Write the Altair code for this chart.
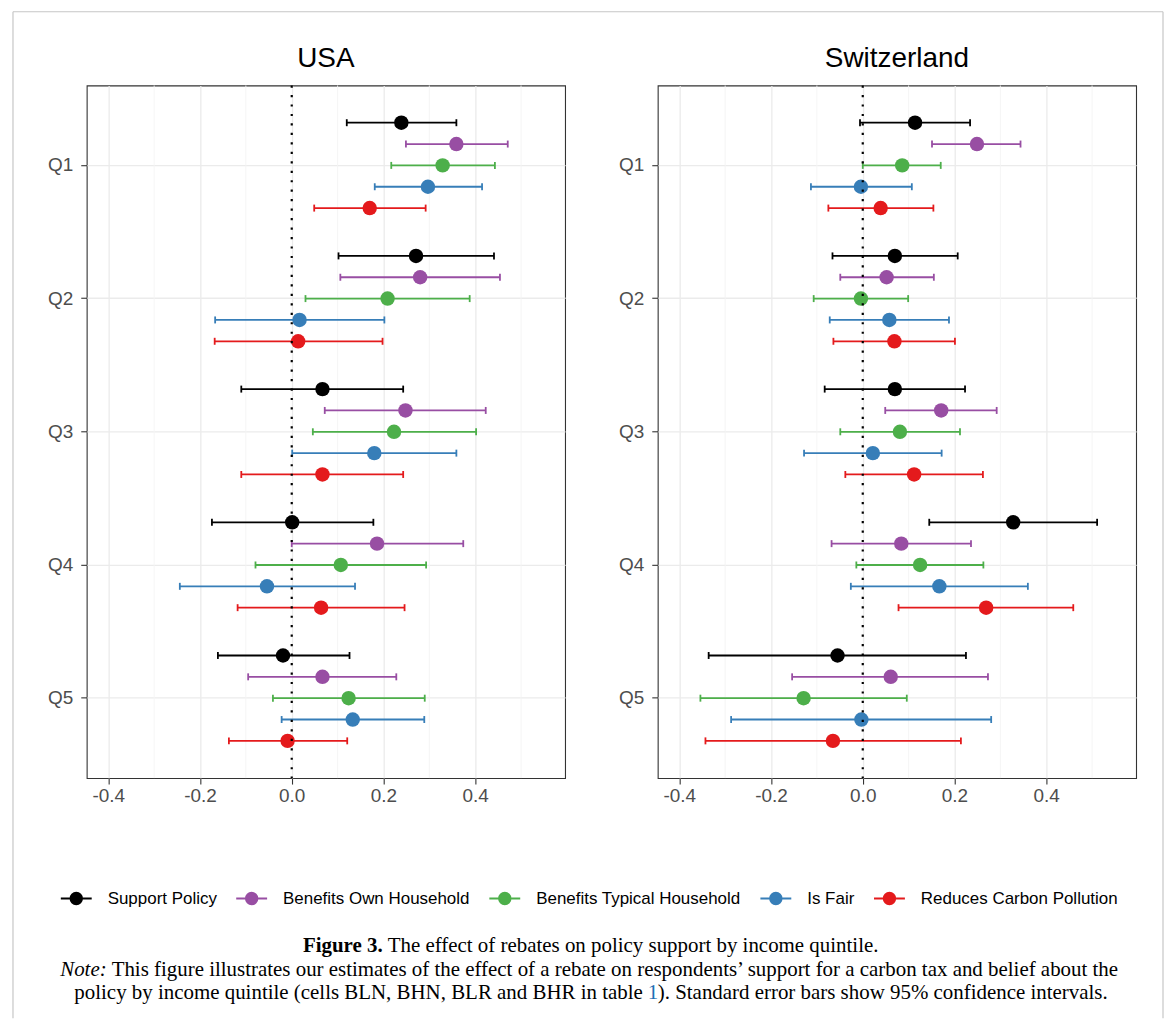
import altair as alt
import pandas as pd

quintiles = ["Q1", "Q2", "Q3", "Q4", "Q5"]
series = ["Support Policy", "Benefits Own Household", "Benefits Typical Household",
          "Is Fair", "Reduces Carbon Pollution"]
colors = ["#000000", "#984EA3", "#4DAF4A", "#377EB8", "#E41A1C"]

# USA estimates (Q1..Q5)
usa_support = [0.239, 0.271, 0.067, 0.001, -0.019]
usa_support_lo = [0.120, 0.102, -0.110, -0.174, -0.161]
usa_support_hi = [0.359, 0.441, 0.243, 0.178, 0.126]
usa_own = [0.359, 0.280, 0.248, 0.186, 0.067]
usa_own_lo = [0.249, 0.106, 0.072, 0.000, -0.095]
usa_own_hi = [0.471, 0.454, 0.423, 0.374, 0.228]
usa_typical = [0.329, 0.209, 0.223, 0.107, 0.124]
usa_typical_lo = [0.217, 0.030, 0.046, -0.079, -0.041]
usa_typical_hi = [0.443, 0.388, 0.402, 0.293, 0.290]
usa_fair = [0.297, 0.017, 0.180, -0.054, 0.133]
usa_fair_lo = [0.181, -0.167, 0.001, -0.244, -0.022]
usa_fair_hi = [0.415, 0.202, 0.359, 0.138, 0.289]
usa_carbon = [0.170, 0.014, 0.067, 0.064, -0.009]
usa_carbon_lo = [0.049, -0.168, -0.110, -0.118, -0.137]
usa_carbon_hi = [0.292, 0.198, 0.243, 0.246, 0.121]

# Switzerland estimates (Q1..Q5)
che_support = [0.114, 0.070, 0.070, 0.328, -0.055]
che_support_lo = [-0.006, -0.066, -0.083, 0.145, -0.336]
che_support_hi = [0.234, 0.207, 0.223, 0.511, 0.225]
che_own = [0.249, 0.052, 0.171, 0.084, 0.061]
che_own_lo = [0.151, -0.049, 0.049, -0.068, -0.154]
che_own_hi = [0.344, 0.155, 0.292, 0.236, 0.273]
che_typical = [0.086, -0.004, 0.081, 0.125, -0.129]
che_typical_lo = [0.000, -0.107, -0.049, -0.014, -0.354]
che_typical_hi = [0.170, 0.099, 0.212, 0.263, 0.096]
che_fair = [-0.004, 0.058, 0.022, 0.167, -0.003]
che_fair_lo = [-0.113, -0.072, -0.128, -0.026, -0.287]
che_fair_hi = [0.107, 0.188, 0.172, 0.360, 0.280]
che_carbon = [0.039, 0.069, 0.112, 0.269, -0.065]
che_carbon_lo = [-0.075, -0.064, -0.038, 0.078, -0.343]
che_carbon_hi = [0.154, 0.201, 0.262, 0.459, 0.214]

x_ticks = [-0.4, -0.2, 0.0, 0.2, 0.4]
x_minor = [-0.3, -0.1, 0.1, 0.3, 0.5]

caption_fig = "Figure 3."
caption_1 = "The effect of rebates on policy support by income quintile."
caption_note = "Note:"
caption_2 = ("This figure illustrates our estimates of the effect of a rebate on respondents\u2019 "
             "support for a carbon tax and belief about the")
caption_3a = "policy by income quintile (cells BLN, BHN, BLR and BHR in table"
caption_3b = "1"
caption_3c = "). Standard error bars show 95% confidence intervals."


def build_rows(country, groups):
    rows = []
    for s, (est, lo, hi) in zip(series, groups):
        for q, e, l, h in zip(quintiles, est, lo, hi):
            rows.append({"country": country, "series": s, "quintile": q,
                         "est": e, "lo": l, "hi": h})
    return rows


usa_df = pd.DataFrame(build_rows("USA", [
    (usa_support, usa_support_lo, usa_support_hi),
    (usa_own, usa_own_lo, usa_own_hi),
    (usa_typical, usa_typical_lo, usa_typical_hi),
    (usa_fair, usa_fair_lo, usa_fair_hi),
    (usa_carbon, usa_carbon_lo, usa_carbon_hi),
]))
che_df = pd.DataFrame(build_rows("Switzerland", [
    (che_support, che_support_lo, che_support_hi),
    (che_own, che_own_lo, che_own_hi),
    (che_typical, che_typical_lo, che_typical_hi),
    (che_fair, che_fair_lo, che_fair_hi),
    (che_carbon, che_carbon_lo, che_carbon_hi),
]))

FONT = "Liberation Sans"
SERIF = "Liberation Serif"

x_scale = alt.Scale(domain=[-0.447, 0.596], nice=False, zero=False)
x_axis = alt.Axis(title=None, values=x_ticks, grid=True,
                  labelExpr="datum.value < 0 ? '-' + format(-datum.value, '.1f') : format(datum.value, '.1f')",
                  labelPadding=2)
y_enc = alt.Y("quintile:N", scale=alt.Scale(domain=quintiles, paddingInner=0, paddingOuter=0.1),
              axis=alt.Axis(title=None, bandPosition=0.5, grid=True, labelPadding=8))
yoff_enc = alt.YOffset("series:N", scale=alt.Scale(domain=series, paddingInner=0, paddingOuter=0.62))

sym_path = ("M-1,0L1,0M-0.37,0A0.37,0.37,0,1,1,0.37,0"
            "A0.37,0.37,0,1,1,-0.37,0Z")
legend = alt.Legend(
    title=None, orient="none", legendX=-27, legendY=799, direction="horizontal", columns=5,
    symbolType=sym_path, symbolSize=961, symbolStrokeWidth=2, symbolOpacity=1,
    labelFont=FONT, labelFontSize=17, labelColor="black", labelOffset=15, labelLimit=500,
    columnPadding=15,
)
color_enc = alt.Color("series:N", scale=alt.Scale(domain=series, range=colors), legend=legend)

one = pd.DataFrame({"z": [0]})


def txt(text, x, y, align, weight="normal", style="normal", color="black",
        font=SERIF, size=21, baseline="middle"):
    return alt.Chart(one).mark_text(
        text=text, font=font, fontSize=size, fontWeight=weight, fontStyle=style,
        color=color, align=align, baseline=baseline).encode(
        x=alt.value(x), y=alt.value(y))


def panel(df, title, extras=None):
    base = alt.Chart(df)
    minor = alt.Chart(pd.DataFrame({"v": x_minor})).mark_rule(
        color="#f4f4f4", strokeWidth=0.9).encode(
        x=alt.X("v:Q", scale=x_scale, axis=x_axis))
    bars = base.mark_rule(strokeWidth=1.8).encode(
        x=alt.X("lo:Q", scale=x_scale, axis=x_axis), x2="hi:Q",
        y=y_enc, yOffset=yoff_enc, color=color_enc)
    caps = base.transform_fold(["lo", "hi"], as_=["end", "xv"]).mark_tick(
        orient="vertical", size=7, thickness=1.8, opacity=1).encode(
        x=alt.X("xv:Q", scale=x_scale, axis=x_axis),
        y=y_enc, yOffset=yoff_enc, color=color_enc)
    pts = base.mark_point(filled=True, size=210, opacity=1, shape="circle").encode(
        x=alt.X("est:Q", scale=x_scale, axis=x_axis),
        y=y_enc, yOffset=yoff_enc, color=color_enc)
    zero = alt.Chart(one).mark_rule(color="black", strokeWidth=2.2, strokeDash=[2.2, 7.3]).encode(
        x=alt.X("z:Q", scale=x_scale, axis=x_axis))
    head = txt(title, 240, -19, "center", font=FONT, size=28, baseline="alphabetic")
    layers = [minor, bars, caps, pts, zero, head]
    if extras:
        layers += extras
    return alt.layer(*layers).properties(width=480, height=695)


FRAME_C = "#c6c6c6"
frame_top = alt.Chart(one).mark_rule(color=FRAME_C, strokeWidth=1.2).encode(
    x=alt.value(-74), x2=alt.value(1080), y=alt.value(-74))
frame_left = alt.Chart(one).mark_rule(color=FRAME_C, strokeWidth=1.2).encode(
    x=alt.value(-74), y=alt.value(-74), y2=alt.value(936))
frame_right = alt.Chart(one).mark_rule(color=FRAME_C, strokeWidth=1.2).encode(
    x=alt.value(1080), y=alt.value(-74), y2=alt.value(936))

extras = [
    frame_top, frame_left, frame_right,
    txt(caption_fig, 297, 864, "right", weight="bold"),
    txt(caption_1, 302, 864, "left"),
    txt(caption_note, 20, 888, "right", style="italic"),
    txt(caption_2, 25, 888, "left"),
    txt(caption_3a, 558, 911, "right"),
    txt(caption_3b, 563, 911, "left", color="#1f6fb5"),
    txt(caption_3c, 573, 911, "left"),
]

usa = panel(usa_df, "USA", extras)
che = panel(che_df, "Switzerland")

chart = alt.hconcat(usa, che, spacing=93).properties(
    bounds="flush", background="white",
    padding={"left": 3, "top": 0, "right": 0, "bottom": 0}
).configure_view(stroke="#333333", strokeWidth=1.1).configure_axis(
    gridColor="#ebebeb", gridWidth=1.3, tickColor="#333333", tickWidth=1.1, tickSize=6,
    labelFont=FONT, labelFontSize=19, labelColor="#4d4d4d", domain=False
)

chart.save("out.html", embed_options={"renderer": "svg", "actions": False})
